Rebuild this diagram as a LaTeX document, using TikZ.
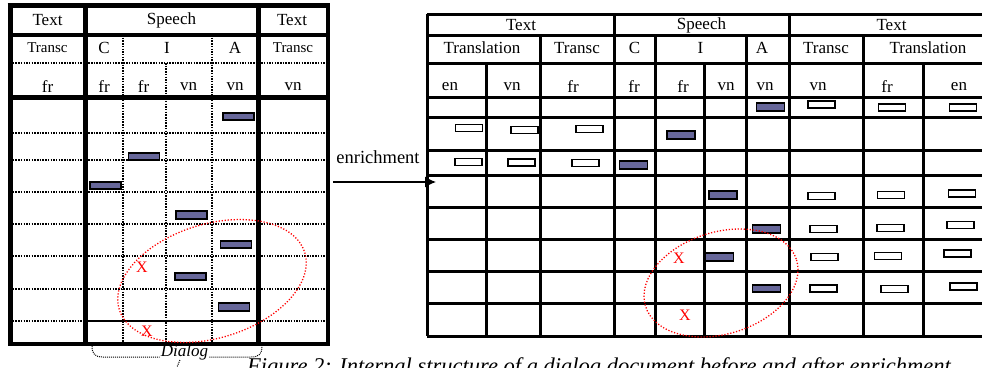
\documentclass[tikz,border=0pt]{standalone}
\usepackage{fontspec}
\setmainfont{Liberation Serif}
\usetikzlibrary{arrows.meta}
\definecolor{barblue}{RGB}{102,102,153}
\begin{document}
\begin{tikzpicture}[x=1pt,y=-1pt,
  thickl/.style={line width=5pt},
  medl/.style={line width=3.5pt},
  dotl/.style={line width=1.6pt, dash pattern=on 1.5pt off 1.2pt},
  gridl/.style={line width=3pt},
  bluebar/.style={draw=black, line width=1.8pt, fill=barblue, minimum width=#1, minimum height=7.5pt, inner sep=0pt},
  whitebar/.style={draw=black, line width=1.8pt, fill=white, minimum width=27pt, minimum height=7pt, inner sep=0pt},
  lbl/.style={font=\fontsize{17}{20}\selectfont, inner sep=0pt},
  slbl/.style={font=\fontsize{15}{18}\selectfont, inner sep=0pt},
  redx/.style={text=red, font=\fontsize{16}{19}\selectfont, inner sep=0pt},
  redell/.style={red, line width=1.3pt, dash pattern=on 1.2pt off 1.8pt},
  brace/.style={line width=1pt, dash pattern=on 1pt off 1pt}
]
\useasboundingbox (0,0) rectangle (982,367);

% ---------------- left table ----------------
\foreach \y in {63,133,160,192,224,256,289,321}
  \draw[dotl] (10,\y) -- (328,\y);
\draw[line width=2pt] (85,321) -- (258,321);
\draw[dotl] (123,35) -- (123,344);
\draw[dotl] (212,35) -- (212,344);
\draw[dotl] (166,63) -- (166,344);
\draw[thickl] (7.5,5) -- (330,5);
\draw[thickl] (10,5) -- (10,346);
\draw[thickl] (85,5) -- (85,344);
\draw[thickl] (258,5) -- (258,344);
\draw[medl] (328,5) -- (328,346);
\draw[medl] (10,344) -- (330,344);
\draw[medl] (10,35) -- (328,35);
\draw[thickl] (10,97) -- (328,97);

\node[lbl] (l1a) at (47.5,20) {Text};
\node[lbl] (l1b) at (171.5,20) {Speech};
\node[lbl] (l1c) at (292,20) {Text};
\node[slbl] (l2a) at (47.5,48) {Transc};
\node[lbl] (l2b) at (104,48) {C};
\node[lbl] (l2c) at (167,48) {I};
\node[lbl] (l2d) at (235,48) {A};
\node[slbl] (l2e) at (293,48) {Transc};
\node[lbl] (l3a) at (47.5,87) {fr};
\node[lbl] (l3b) at (104,87) {fr};
\node[lbl] (l3c) at (143.5,87) {fr};
\node[lbl] (l3d) at (188.5,87) {vn};
\node[lbl] (l3e) at (235,87) {vn};
\node[lbl] (l3f) at (293,87) {vn};

\foreach \cx/\cy [count=\i] in {238.5/116.5, 144/156.5, 105.5/185.5, 191.5/215, 236/244.5, 190.5/276.5, 234/307}
  \node[bluebar=31pt] (lb\i) at (\cx,\cy) {};

\node[redx] (lx1) at (142,267) {X};
\node[redx] (lx2) at (147,331) {X};
\draw[redell, rotate around={17:(212,281)}] (212,281) ellipse [x radius=97, y radius=57];

% Dialog brace
\node[font=\fontsize{17}{20}\selectfont\itshape, inner sep=1pt] (dialog) at (184.5,352) {Dialog};
\coordinate (bl) at (92,346);
\coordinate (br) at (262,346);
\draw[brace] (bl) .. controls (92,354) and (95,357) .. (103,357) -- (dialog.west |- 0,357);
\draw[brace] (dialog.east |- 0,357) -- (251,357) .. controls (259,357) and (262,354) .. (br);
\draw[brace] (180,360) -- (177,367);

% ---------------- enrichment arrow ----------------
\node[font=\fontsize{18.5}{21}\selectfont, inner sep=0pt] (enr) at (378,157) {enrichment};
\coordinate (as) at (333,182);
\coordinate (ae) at (436,182);
\draw[line width=1.5pt, -{Latex[length=11pt,width=11pt]}] (as) -- (ae);

% ---------------- right table ----------------
\foreach \y in {14,35,63,97,117,150,175,207,239,271,303,336}
  \draw[gridl] (427,\y) -- (994,\y);
\foreach \x in {427,614,789}
  \draw[gridl] (\x,14) -- (\x,336);
\foreach \x in {540,655,746,863}
  \draw[gridl] (\x,35) -- (\x,336);
\foreach \x in {486,704,923}
  \draw[gridl] (\x,63) -- (\x,336);

\node[lbl] (r1a) at (521,25) {Text};
\node[lbl] (r1b) at (701.5,25) {Speech};
\node[lbl] (r1c) at (891.5,25) {Text};
\node[lbl] (r2a) at (482,48) {Translation};
\node[lbl] (r2b) at (577,48) {Transc};
\node[lbl] (r2c) at (634.5,48) {C};
\node[lbl] (r2d) at (700.5,48) {I};
\node[lbl] (r2e) at (762,48) {A};
\node[lbl] (r2f) at (826,48) {Transc};
\node[lbl] (r2g) at (928,48) {Translation};
\node[lbl] (r3a) at (450,87) {en};
\node[lbl] (r3b) at (512,87) {vn};
\node[lbl] (r3c) at (573,87) {fr};
\node[lbl] (r3d) at (634,87) {fr};
\node[lbl] (r3e) at (683,87) {fr};
\node[lbl] (r3f) at (726,87) {vn};
\node[lbl] (r3g) at (765,87) {vn};
\node[lbl] (r3h) at (818,87) {vn};
\node[lbl] (r3i) at (887,87) {fr};
\node[lbl] (r3j) at (959,87) {en};

\foreach \cx/\cy [count=\i] in {770.5/107, 681/135, 633.5/165, 723/195, 766.5/229, 719.5/257, 766.5/288.5}
  \node[bluebar=28pt] (rb\i) at (\cx,\cy) {};
\foreach \cx/\cy [count=\i] in {821.5/104.5, 892/107.5, 963/107.5, 469/128, 524.5/130, 589.5/129, 468.5/162, 521.5/162.5, 585.5/163, 821.5/196, 891/195, 962/193.5, 823.5/229, 890.5/228, 960.5/225, 824.5/257, 888/256, 957.5/253.5, 823.5/288.5, 894.5/289, 963.5/286.5}
  \node[whitebar] (rw\i) at (\cx,\cy) {};

\node[redx] (rx1) at (679,258) {X};
\node[redx] (rx2) at (685,315) {X};
\draw[redell, rotate around={17:(721,283)}] (721,283) ellipse [x radius=79, y radius=51];

% caption (cut off by the page edge, as in the reference)
\node[anchor=base west, inner sep=0pt, font=\fontsize{22.5}{26}\selectfont\itshape] (cap) at (247,373) {Figure 2: Internal structure of a dialog document before and after enrichment};
\end{tikzpicture}
\end{document}
